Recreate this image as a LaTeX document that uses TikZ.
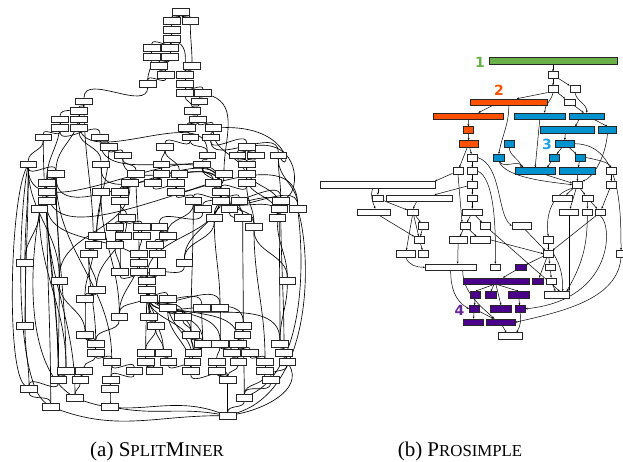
\documentclass[tikz,border=0pt]{standalone}
\usepackage{fontspec}
\setmainfont{Liberation Serif}
\newfontfamily\lblfont{DejaVu Sans}
\usetikzlibrary{arrows.meta}
\pgfdeclarelayer{bg}
\pgfsetlayers{bg,main}
\definecolor{grn}{RGB}{106,176,72}
\definecolor{org}{RGB}{255,80,0}
\definecolor{blu}{RGB}{0,146,207}
\definecolor{pur}{RGB}{75,0,140}
\definecolor{lblu}{RGB}{27,160,226}
\definecolor{lpur}{RGB}{100,40,150}
\begin{document}
\begin{tikzpicture}[x=1pt,y=1pt,
  lb/.style={draw=black!85,fill=white,line width=0.6pt,minimum width=16.5pt,minimum height=6.5pt,inner sep=0pt,rectangle},
  rb/.style={draw=black!85,fill=white,line width=0.55pt,minimum width=10.4pt,minimum height=6.6pt,inner sep=0pt,rectangle},
  le/.style={line width=0.65pt},
  ra/.style={line width=0.5pt,-{Stealth[length=2.2pt,width=1.8pt]}},
  digit/.style={font=\lblfont\bfseries\fontsize{14}{14}\selectfont,inner sep=0pt},
  captxt/.style={font=\fontsize{21}{24}\selectfont,inner sep=0pt,anchor=base}]
\useasboundingbox (0,0) rectangle (623,-462);
% ---------------- left diagram nodes ----------------
\node[lb] (A1) at (181,-11.7) {};
\node[lb] (A2) at (171.7,-20.7) {};
\node[lb] (A3) at (190.3,-20.7) {};
\node[lb] (A4) at (171.7,-29.7) {};
\node[lb] (A5) at (171.7,-38.7) {};
\node[lb] (A6) at (151.7,-47.7) {};
\node[lb] (A7) at (170,-47.7) {};
\node[lb] (A8) at (151.7,-56.7) {};
\node[lb] (A9) at (170,-56.7) {};
\node[lb] (A10) at (158.7,-65.7) {};
\node[lb] (A11) at (192,-65.7) {};
\node[lb] (A12) at (166,-74.7) {};
\node[lb] (A13) at (185,-74.7) {};
\node[lb] (A14) at (147.7,-83.7) {};
\node[lb] (A15) at (185,-83.7) {};
\node[lb] (A16) at (185,-92.7) {};
\node[lb] (A17) at (203,-92.7) {};
\node[lb] (A18) at (84,-101.3) {};
\node[lb] (A19) at (199.3,-101.3) {};
\node[lb] (A20) at (79,-110.7) {};
\node[lb] (A21) at (192.3,-110.7) {};
\node[lb] (A22) at (60,-119.3) {};
\node[lb] (A23) at (79,-119.3) {};
\node[lb] (A24) at (198,-119.3) {};
\node[lb] (A25) at (60,-128) {};
\node[lb] (A26) at (79,-128) {};
\node[lb] (A27) at (186.7,-128) {};
\node[lb] (A28) at (213.3,-128) {};
\node[lb] (A29) at (43.3,-137.3) {};
\node[lb] (A30) at (100,-137.3) {};
\node[lb] (A31) at (190.3,-137.3) {};
\node[lb] (A32) at (210.7,-137.3) {};
\node[lb] (A33) at (108.7,-146.7) {};
\node[lb] (A34) at (165,-146.7) {};
\node[lb] (A35) at (246.7,-146.7) {};
\node[lb] (A36) at (122.7,-155.3) {};
\node[lb] (A37) at (207.3,-155.3) {};
\node[lb] (A38) at (237.3,-155.3) {};
\node[lb] (A39) at (255.7,-155.3) {};
\node[lb] (A40) at (278.3,-155.3) {};
\node[lb] (A41) at (28.3,-164.3) {};
\node[lb] (A42) at (101,-164.3) {};
\node[lb] (A43) at (161.3,-164.3) {};
\node[lb] (A44) at (202,-164.3) {};
\node[lb] (A45) at (246.7,-164.3) {};
\node[lb] (A46) at (56,-173.7) {};
\node[lb] (A47) at (136,-173.7) {};
\node[lb] (A48) at (161.3,-173.7) {};
\node[lb] (A49) at (179.3,-173.7) {};
\node[lb] (A50) at (224,-173.7) {};
\node[lb] (A51) at (246.7,-173.7) {};
\node[lb] (A52) at (46.7,-182.7) {};
\node[lb] (A53) at (130,-182.7) {};
\node[lb] (A54) at (152.7,-182.7) {};
\node[lb] (A55) at (176,-182.7) {};
\node[lb] (A56) at (213.3,-182.7) {};
\node[lb] (A57) at (246.7,-182.7) {};
\node[lb] (A58) at (46.7,-191.7) {};
\node[lb] (A59) at (101,-191.7) {};
\node[lb] (A60) at (120,-191.7) {};
\node[lb] (A61) at (176,-191.7) {};
\node[lb] (A62) at (220.7,-191.7) {};
\node[lb] (A63) at (46.7,-200.7) {};
\node[lb] (A64) at (120,-200.7) {};
\node[lb] (A65) at (193.3,-200.7) {};
\node[lb] (A66) at (220.7,-200.7) {};
\node[lb] (A67) at (239.3,-200.7) {};
\node[lb] (A68) at (280.7,-200.7) {};
\node[lb] (A69) at (39.3,-209) {};
\node[lb] (A70) at (202.7,-209) {};
\node[lb] (A71) at (229.3,-209) {};
\node[lb] (A72) at (279.3,-209) {};
\node[lb] (A73) at (297.7,-209) {};
\node[lb] (A74) at (126.7,-218) {};
\node[lb] (A75) at (214.3,-218) {};
\node[lb] (A76) at (242.7,-218) {};
\node[lb] (A77) at (277.3,-218) {};
\node[lb] (A78) at (115,-226.7) {};
\node[lb] (A79) at (141.7,-226.7) {};
\node[lb] (A80) at (159.3,-226.7) {};
\node[lb] (A81) at (254,-226.7) {};
\node[lb] (A82) at (96.7,-235.7) {};
\node[lb] (A83) at (123.3,-235.7) {};
\node[lb] (A84) at (141.7,-235.7) {};
\node[lb] (A85) at (167.7,-235.7) {};
\node[lb] (A86) at (93.3,-244.7) {};
\node[lb] (A87) at (115,-244.7) {};
\node[lb] (A88) at (155,-244.7) {};
\node[lb] (A89) at (88.7,-253.7) {};
\node[lb] (A90) at (139,-253.7) {};
\node[lb] (A91) at (157.3,-253.7) {};
\node[lb] (A92) at (25,-262.7) {};
\node[lb] (A93) at (139,-262.7) {};
\node[lb] (A94) at (184.3,-262.7) {};
\node[lb] (A95) at (120,-271.7) {};
\node[lb] (A96) at (139,-271.7) {};
\node[lb] (A97) at (157.3,-271.7) {};
\node[lb] (A98) at (59.3,-280.7) {};
\node[lb] (A99) at (146.7,-280.7) {};
\node[lb] (A100) at (287.3,-280.7) {};
\node[lb] (A101) at (96.7,-289.7) {};
\node[lb] (A102) at (146.7,-289.7) {};
\node[lb] (A103) at (85,-298.7) {};
\node[lb] (A104) at (149,-298.7) {};
\node[lb] (A105) at (167.7,-298.7) {};
\node[lb] (A106) at (167.7,-307.7) {};
\node[lb] (A107) at (201.7,-307.7) {};
\node[lb] (A108) at (220,-307.7) {};
\node[lb] (A109) at (119.3,-316.7) {};
\node[lb] (A110) at (149,-316.7) {};
\node[lb] (A111) at (182.7,-316.7) {};
\node[lb] (A112) at (25,-325.7) {};
\node[lb] (A113) at (155.7,-325.7) {};
\node[lb] (A114) at (243.3,-325.7) {};
\node[lb] (A115) at (85,-334.7) {};
\node[lb] (A116) at (191,-334.7) {};
\node[lb] (A117) at (242.3,-334.7) {};
\node[lb] (A118) at (95.7,-343.7) {};
\node[lb] (A119) at (202.7,-343.7) {};
\node[lb] (A120) at (220,-343.7) {};
\node[lb] (A121) at (238,-343.7) {};
\node[lb] (A122) at (280,-343.7) {};
\node[lb] (A123) at (95.7,-352.7) {};
\node[lb] (A124) at (145.7,-352.7) {};
\node[lb] (A125) at (163.3,-352.7) {};
\node[lb] (A126) at (193.3,-352.7) {};
\node[lb] (A127) at (231.7,-352.7) {};
\node[lb] (A128) at (250,-352.7) {};
\node[lb] (A129) at (284,-352.7) {};
\node[lb] (A130) at (111.7,-361.7) {};
\node[lb] (A131) at (145.7,-361.7) {};
\node[lb] (A132) at (168.3,-361.7) {};
\node[lb] (A133) at (192.3,-361.7) {};
\node[lb] (A134) at (216.7,-361.7) {};
\node[lb] (A135) at (238.3,-361.7) {};
\node[lb] (A136) at (265,-361.7) {};
\node[lb] (A137) at (287.3,-361.7) {};
\node[lb] (A138) at (66,-370.7) {};
\node[lb] (A139) at (84,-370.7) {};
\node[lb] (A140) at (134.3,-370.7) {};
\node[lb] (A141) at (154.3,-370.7) {};
\node[lb] (A142) at (190.7,-370.7) {};
\node[lb] (A143) at (216.7,-370.7) {};
\node[lb] (A144) at (265,-370.7) {};
\node[lb] (A145) at (58.3,-379.7) {};
\node[lb] (A146) at (80.3,-379.7) {};
\node[lb] (A147) at (111,-379.7) {};
\node[lb] (A148) at (227.7,-379.7) {};
\node[lb] (A149) at (270.7,-379.7) {};
\node[lb] (A150) at (29,-388.7) {};
\node[lb] (A151) at (110,-388.7) {};
\node[lb] (A152) at (75,-397.7) {};
\node[lb] (A153) at (244.3,-397.7) {};
\node[lb] (A154) at (50.7,-406.7) {};
\node[lb] (A155) at (110,-406.7) {};
\node[lb] (A156) at (227.7,-415.7) {};
% ---------------- left diagram edges ----------------
\begin{pgfonlayer}{bg}
\begin{scope}[every edge/.style={draw,le,out=-90,in=90}]
\path
(A1) edge (A2) (A1) edge (A3) (A2) edge (A4) (A4) edge (A5) (A5) edge (A6) (A5) edge (A7)
(A6) edge (A8) (A7) edge (A9) (A9) edge (A10) (A10) edge (A12) (A8) edge (A14) (A12) edge (A14)
(A3) edge (A11) (A5) edge[out=-30] (A13) (A11) edge (A13) (A13) edge (A15) (A15) edge (A16) (A15) edge (A17)
(A16) edge (A21) (A17) edge (A19) (A19) edge (A21) (A21) edge (A24) (A24) edge (A27) (A24) edge (A28)
(A27) edge (A31) (A28) edge (A32) (A31) edge (A34) (A31) edge (A37) (A32) edge (A35) (A32) edge (A40)
(A17) edge[out=-20] (A50) (A14) edge (A18) (A18) edge (A20) (A18) edge (A22) (A20) edge (A23) (A22) edge (A25)
(A23) edge (A26) (A25) edge (A29) (A25) edge (A30) (A26) edge (A42) (A29) edge (A41) (A30) edge (A33)
(A33) edge (A36) (A18) edge (A86) (A23) edge (A37) (A35) edge (A38) (A35) edge (A39)
(A36) edge (A47) (A34) edge (A43) (A43) edge (A48) (A37) edge (A44) (A38) edge (A45) (A39) edge (A45)
(A40) edge (A68) (A45) edge (A51) (A51) edge (A57) (A44) edge (A56) (A48) edge (A54) (A47) edge (A53)
(A49) edge (A55) (A34) edge (A49) (A30) edge (A62)
(A41) edge (A46) (A46) edge (A52) (A52) edge (A58) (A58) edge (A63) (A63) edge (A69) (A41) edge (A92)
(A41) edge (A112) (A46) edge (A98) (A46) edge (A138) (A29) edge (A145) (A42) edge (A59) (A53) edge (A60)
(A60) edge (A64) (A54) edge (A61) (A55) edge (A61) (A61) edge (A65) (A56) edge (A62) (A50) edge (A62)
(A55) edge (A62) (A57) edge (A62) (A44) edge (A62) (A41) edge (A62) (A46) edge (A62) (A52) edge (A73)
(A62) edge (A65) (A62) edge (A66) (A62) edge (A67) (A62) edge (A70) (A62) edge (A71) (A62) edge (A68)
(A62) edge (A72) (A62) edge (A73) (A62) edge (A75) (A62) edge (A76) (A62) edge (A81) (A62) edge (A77)
(A66) edge (A75) (A67) edge (A76) (A68) edge (A77) (A72) edge (A77) (A69) edge (A92) (A64) edge (A74)
(A74) edge (A78) (A74) edge (A79) (A59) edge (A82) (A78) edge (A83) (A79) edge (A84) (A80) edge (A85)
(A70) edge (A80) (A71) edge (A81) (A65) edge (A85) (A82) edge (A86) (A83) edge (A87) (A86) edge (A89)
(A84) edge (A90) (A88) edge (A91) (A85) edge (A88) (A90) edge (A93) (A93) edge (A96) (A96) edge (A99)
(A97) edge (A99) (A91) edge (A97) (A87) edge (A95) (A95) edge (A99) (A89) edge (A101) (A99) edge (A102)
(A81) edge (A100) (A77) edge (A100) (A75) edge (A94) (A94) edge (A99) (A62) edge (A99) (A63) edge (A99)
(A102) edge (A104) (A102) edge (A105) (A102) edge (A110) (A102) edge (A109) (A102) edge (A113)
(A102) edge (A107) (A102) edge (A108) (A102) edge (A111) (A102) edge (A116) (A102) edge (A114)
(A102) edge (A124) (A102) edge (A125) (A101) edge (A103) (A103) edge (A115) (A98) edge (A115)
(A98) edge (A145) (A92) edge (A112) (A112) edge (A150) (A104) edge (A110) (A105) edge (A106)
(A106) edge (A111) (A110) edge (A113) (A113) edge (A124) (A113) edge (A125) (A109) edge (A118)
(A115) edge (A118) (A118) edge (A123) (A123) edge (A130) (A123) edge (A139) (A107) edge (A119)
(A108) edge (A120) (A111) edge (A116) (A116) edge (A119) (A116) edge (A126) (A114) edge (A117)
(A117) edge (A121) (A100) edge (A122) (A122) edge (A129) (A119) edge (A126) (A120) edge (A127)
(A121) edge (A128) (A126) edge (A133) (A127) edge (A135) (A128) edge (A136) (A129) edge (A137)
(A124) edge (A131) (A125) edge (A132) (A131) edge (A141) (A132) edge (A142) (A133) edge (A142)
(A134) edge (A143) (A120) edge (A134) (A135) edge (A148) (A136) edge (A144) (A137) edge (A149)
(A130) edge (A140) (A139) edge (A146) (A138) edge (A145) (A145) edge (A150) (A146) edge (A152)
(A130) edge (A147) (A140) edge (A147) (A147) edge (A151) (A151) edge (A155) (A142) edge (A148)
(A143) edge (A148) (A148) edge (A156) (A144) edge (A153) (A149) edge (A153) (A153) edge (A156)
(A150) edge (A154) (A75) edge (A108) (A81) edge (A136) (A76) edge (A114) (A65) edge (A116)
(A59) edge (A109) (A58) edge (A154) (A63) edge (A152) (A52) edge (A145) (A86) edge (A103)
(A89) edge (A118) (A90) edge (A109) (A72) edge (A122) (A68) edge (A129) (A114) edge (A153)
(A99) edge (A119) (A99) edge (A120) (A99) edge (A121) (A99) edge (A122) (A102) edge (A126)
(A105) edge (A133) (A106) edge (A142) (A41) edge (A98) (A46) edge (A130) (A69) edge (A138)
(A64) edge (A95) (A74) edge (A101) (A47) edge (A90) (A53) edge (A98) (A62) edge (A94)
(A57) edge (A81) (A51) edge (A77) (A45) edge (A72) (A28) edge (A57) (A40) edge (A73)
(A36) edge (A62) (A42) edge (A62) (A33) edge (A82) (A22) edge (A52) (A20) edge (A46);
\draw[le] (A41) .. controls (10,-200) and (6,-370) .. (A150);
\draw[le] (A41) .. controls (18,-220) and (14,-380) .. (A154);
\draw[le] (A52) .. controls (30,-240) and (20,-360) .. (A152);
\draw[le] (A154) to[out=-20,in=180] (A156);
\draw[le] (A155) to[out=-10,in=170] (A156);
\draw[le] (A152) to[out=-20,in=160] (A156);
\draw[le] (A73) .. controls (312,-260) and (312,-390) .. (A156);
\draw[le] (A73) .. controls (306,-280) and (300,-370) .. (A153);
\draw[le] (A137) to[out=-60,in=10] (A156);
\draw[le] (A35) .. controls (300,-140) and (300,-190) .. (A68);
\draw[le] (A28) .. controls (290,-125) and (292,-175) .. (A40);
\end{scope}
\end{pgfonlayer}
% ---------------- right diagram nodes ----------------
\node[rb,fill=grn,minimum width=128pt] (G) at (553,-61) {};
\node[rb] (n1) at (553,-75) {};
\node[rb] (n2) at (553,-89) {};
\node[rb] (n3) at (575,-89) {};
\node[rb,minimum width=11pt] (n4) at (569.5,-102.2) {};
\node[rb,fill=org,minimum width=77pt] (OA) at (508.8,-102.3) {};
\node[rb,fill=org,minimum width=70pt] (OB) at (468.3,-116.3) {};
\node[rb,fill=blu,minimum width=51.3pt] (BC) at (539.7,-116.3) {};
\node[rb,fill=blu,minimum width=35.7pt] (BD) at (586.8,-116.3) {};
\node[rb,fill=blu,minimum width=54pt] (BE) at (567.3,-130) {};
\node[rb,fill=blu,minimum width=18.4pt] (BF) at (607.5,-130) {};
\node[rb,fill=org] (OG) at (468.5,-130) {};
\node[rb,fill=org,minimum width=18.7pt] (OH) at (468.7,-143.7) {};
\node[rb,fill=blu,minimum width=10pt] (BI) at (509.3,-143.7) {};
\node[rb,fill=blu,minimum width=18.3pt] (BJ) at (564.8,-143.7) {};
\node[rb,minimum width=10pt] (K) at (472.3,-157.5) {};
\node[rb,fill=blu] (BL) at (498.8,-157.5) {};
\node[rb,fill=blu] (BM) at (554,-157.5) {};
\node[rb,fill=blu] (BN) at (580.2,-157.5) {};
\node[rb] (O) at (458,-171) {};
\node[rb,minimum width=10pt] (P) at (472.3,-171) {};
\node[rb,fill=blu,minimum width=40.3pt] (BQ) at (535.2,-171) {};
\node[rb,fill=blu,minimum width=36.4pt] (BR) at (577.5,-171) {};
\node[rb] (S) at (611.3,-171) {};
\node[rb,minimum width=115.7pt] (T) at (377.8,-184.7) {};
\node[rb,minimum width=10pt] (U) at (472.3,-184.7) {};
\node[rb,minimum width=10pt] (V) at (577.3,-184.7) {};
\node[rb] (W) at (611.3,-184.7) {};
\node[rb,minimum width=11pt] (X) at (377.8,-198.3) {};
\node[rb,minimum width=65.6pt] (Y) at (419.5,-198.3) {};
\node[rb,minimum width=10pt] (Z) at (472.3,-198.3) {};
\node[rb,minimum width=20pt] (AA) at (562.3,-198.3) {};
\node[rb] (AB) at (587.7,-198.3) {};
\node[rb,minimum width=33pt] (ba) at (374.2,-212.3) {};
\node[rb,minimum width=11.4pt] (bb) at (413,-212.3) {};
\node[rb,minimum width=20.7pt] (bc) at (472.3,-212.3) {};
\node[rb,minimum width=19.4pt] (bd) at (569,-212.3) {};
\node[rb] (be) at (587.3,-212.3) {};
\node[rb,minimum width=10pt] (bf) at (600.3,-212.3) {};
\node[rb] (bg) at (423.2,-225.8) {};
\node[rb] (bh) at (465,-225.8) {};
\node[rb] (bi) at (485.2,-225.8) {};
\node[rb,minimum width=19pt] (bj) at (521.5,-225.8) {};
\node[rb] (bk) at (419.5,-239.8) {};
\node[rb,minimum width=18.3pt] (bl) at (458.2,-239.8) {};
\node[rb,minimum width=19.3pt] (bm) at (480.3,-239.8) {};
\node[rb,minimum width=10pt] (bn) at (548.3,-239.8) {};
\node[rb,minimum width=19.3pt] (bo) at (405.7,-253.7) {};
\node[rb,minimum width=10pt] (bp) at (423.3,-253.7) {};
\node[rb,minimum width=10pt] (bq) at (548.3,-253.7) {};
\node[rb,minimum width=10pt] (br) at (621,-253.7) {};
\node[rb,minimum width=50.7pt] (bs) at (450.7,-267.3) {};
\node[rb] (bt) at (495.3,-267.3) {};
\node[rb,fill=pur] (bu) at (520.7,-267.3) {};
\node[rb] (bv) at (550.2,-267.3) {};
\node[rb,fill=pur,minimum width=66pt] (bw) at (496,-281.2) {};
\node[rb,fill=pur,minimum width=11pt] (bx) at (537.8,-281.2) {};
\node[rb] (by) at (551.5,-281.2) {};
\node[rb,fill=pur] (bz) at (475.3,-294.8) {};
\node[rb,fill=pur] (ca) at (490.8,-294.8) {};
\node[rb,fill=pur,minimum width=21pt] (cb) at (518.5,-294.8) {};
\node[rb,minimum width=25.3pt] (cc) at (556.7,-294.8) {};
\node[rb,fill=pur] (cd) at (474.3,-308.8) {};
\node[rb,fill=pur,minimum width=21.4pt] (ce) at (501,-308.8) {};
\node[rb,fill=pur] (cf) at (520,-308.8) {};
\node[rb,fill=pur,minimum width=19.7pt] (cg) at (473.2,-322.3) {};
\node[rb,fill=pur,minimum width=29pt] (ch) at (500.5,-322.3) {};
\node[rb,minimum width=24pt] (ci) at (510.3,-336) {};
% labels
\node[digit,text=grn] (d1) at (480,-62) {1};
\node[digit,text=org] (d2) at (499,-90) {2};
\node[digit,text=lblu] (d3) at (547,-144.5) {3};
\node[digit,text=lpur] (d4) at (459.5,-310) {4};
% ---------------- right diagram edges ----------------
\begin{pgfonlayer}{bg}
\draw[ra] (G) -- (n1);
\draw[ra] (n1) -- (n2);
\draw[ra] (n1) -- (n3);
\draw[ra] (n2.south west) -- ([xshift=8pt]OA.north);
\draw[ra] (n2.south) to[out=-100,in=90] ([xshift=5pt]BC.north);
\draw[ra] (n2) -- (n4);
\draw[ra] (n3.south) to[out=-80,in=90] (BD.north);
\draw[ra] (n4) -- ([xshift=-3pt]BD.north);
\draw[ra] ([xshift=-17pt]OA.south) -- ([xshift=10pt]OB.north);
\draw[ra] (OA.south) to[out=-90,in=80] (BL.north);
\draw[ra] (OB) -- (OG);
\draw[ra] (OG) -- (OH);
\draw[ra] (OH) -- (K);
\draw[ra] (OH) -- (O);
\draw[ra] (K) -- (P);
\draw[ra] (K.east) .. controls (502,-165) and (497,-215) .. (bj.west);
\draw[ra] (BC.south) -- (BQ.north);
\draw[ra] ([xshift=-8pt]BD.south) -- ([xshift=8pt]BE.north);
\draw[ra] ([xshift=8pt]BD.south) -- (BF.north);
\draw[ra] ([xshift=-2pt]BE.south) -- (BJ.north);
\draw[ra] (BJ) -- (BM);
\draw[ra] (BJ) -- (BN);
\draw[ra] (BJ.east) to[out=0,in=90] (br.north);
\draw[ra] (BN.east) .. controls (598,-160) and (608,-162) .. (S.north);
\draw[ra] (BI.south) to[out=-90,in=100] ([xshift=-14pt]BQ.north);
\draw[ra] (BL.south) to[out=-60,in=120] ([xshift=-12pt]BQ.north);
\draw[ra] (BL.south) .. controls (505,-178) and (550,-182) .. (V.west);
\draw[ra] (BM) -- ([xshift=12pt]BQ.north);
\draw[ra] (BN) -- (BR);
\draw[ra] ([xshift=10pt]BQ.south) -- (V);
\draw[ra] (BR) -- (V);
\draw[ra] (BF.south) .. controls (605,-160) and (592,-178) .. (V.north east);
\draw[ra] (S) -- (W);
\draw[ra] (O) -- ([xshift=-1pt]T.north east);
\draw[ra] (O.south) -- ([xshift=-3pt]bh.north);
\draw[ra] (P) -- (U);
\draw[ra] (U) -- ([xshift=15pt]Y.north);
\draw[ra] (U) -- (Z);
\draw[ra] (Z) -- (bc);
\draw[ra] (P.east) .. controls (494,-178) and (496,-225) .. (bt.north);
\draw[ra] (T.south -| X.north) -- (X);
\draw[ra] ([xshift=-5pt]T.south) to[out=-110,in=110] ([xshift=1pt]ba.north);
\draw[ra] (X) -- (bb);
\draw[ra] ([xshift=-3pt]Y.south) -- (bb.north);
\draw[ra] (bb) -- (bg);
\draw[ra] (bb) -- (bk);
\draw[ra] (bb) -- (bo);
\draw[ra] (ba) -- (bk);
\draw[ra] (bg) -- (bk);
\draw[ra] (bk) -- (bp);
\draw[ra] (bc) -- (bh);
\draw[ra] (bc) -- (bi);
\draw[ra] (bh) -- (bl);
\draw[ra] (bh) -- (bm);
\draw[ra] (bo.south) to[out=-70,in=180] (bs.west);
\draw[ra] (bl) -- ([xshift=7pt]bs.north);
\draw[ra] (bm.east) -- (bq.west);
\draw[ra] (bi) -- ([xshift=3pt]cc.north);
\draw[ra] (bj) -- (bq);
\draw[ra] (bs.south) to[out=-90,in=150] (cd.west);
\draw[ra] ([xshift=12pt]bs.south) .. controls (463,-292) and (480,-306) .. ([xshift=-6pt]ch.north);
\draw[ra] (cd) -- (ch);
\draw[ra] (V) -- (AA);
\draw[ra] (V) -- (AB);
\draw[ra] (V) -- (bd);
\draw[ra] (V.south west) .. controls (548,-195) and (546,-222) .. (bn.north);
\draw[ra] (AB) -- (be);
\draw[ra] (AB) -- (bf);
\draw[ra] (W) -- (bf);
\draw[ra] (bf) -- (bq);
\draw[ra] (bf.south) .. controls (613,-225) and (614,-300) .. (cf.east);
\draw[ra] (be.south) to[out=-90,in=60] ([xshift=-3pt]cc.north east);
\draw[ra] (br.south) .. controls (618,-300) and (560,-312) .. (ch.east);
\draw[ra] (bn) -- (bq);
\draw[ra] (bd.south) -- (bd.south |- cc.north);
\draw[ra] (bq) -- (bv);
\draw[ra] (bv) -- (by);
\draw[ra] (by) -- (cc);
\draw[ra] (bq.east) to[out=-60,in=90] ([xshift=6pt]cc.north);
\draw[ra] (bq) -- (bu);
\draw[ra] (bq) -- (bx);
\draw[ra] (bu) -- ([xshift=7pt]bw.north);
\draw[ra] ([xshift=-3pt]bw.south) -- (bz.north);
\draw[ra] ([xshift=-2pt]bw.south) -- (ca.north);
\draw[ra] ([xshift=2pt]bw.south) -- (cb.north);
\draw[ra] ([xshift=0pt]bw.south) -- (ce.north);
\draw[ra] (bz) -- (cd);
\draw[ra] (cd) -- (cg);
\draw[ra] (cb) -- (cf);
\draw[ra] ([xshift=2pt]ch.south) -- ([xshift=-4pt]ci.north);
\draw[ra] (cf.south) to[out=-80,in=60] ([xshift=-6pt]ci.north east);
\end{pgfonlayer}
% ---------------- captions ----------------
\node[captxt] (capa) at (157,-456) {(a) S{\fontsize{16.8}{19}\selectfont PLIT}M{\fontsize{16.8}{19}\selectfont INER}};
\node[captxt] (capb) at (460,-456) {(b) P{\fontsize{16.8}{19}\selectfont ROSIMPLE}};
\end{tikzpicture}
\end{document}
